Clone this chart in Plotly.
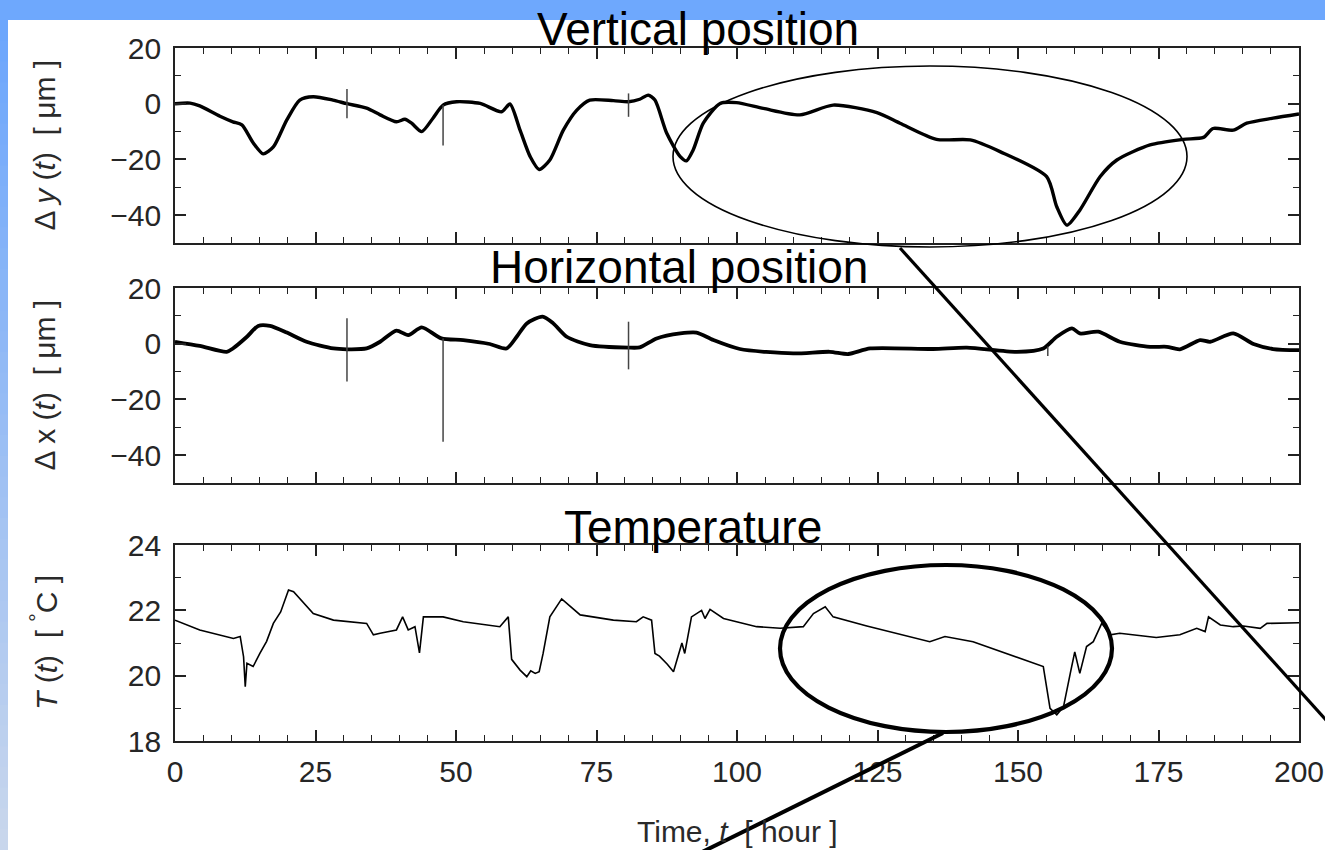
import plotly.graph_objects as go

# ---------------- data ----------------
dy_t = [0, 2.7, 4.4, 8, 10.3, 11.9, 13.9, 15.7, 17.5, 19.9, 22.2, 24.6, 28.1, 30.6, 34.1, 36.5,
        39.4, 40.9, 42.1, 43.9, 45.9, 47.7, 50.1, 54.3, 58.1, 59.6, 61.4, 63.2, 64.8, 66.7, 69.1,
        71.5, 73.8, 78, 80.7, 82.7, 84.2, 85.4, 87.5, 89.9, 91, 92.2, 94, 97, 99.9, 104.7, 111.2,
        117.1, 124.9, 129, 135.5, 141.5, 146.8, 155.1, 156.9, 158.7, 161, 164.6, 167.6, 173.5,
        179.4, 183, 184.7, 188.3, 190.7, 195.4, 200]
dy_v = [0, 0.2, -0.8, -4.5, -6.5, -7.6, -14, -18, -15.5, -5.8, 1.3, 2.5, 1.3, 0, -1.6, -4,
        -6.5, -5.6, -7, -10, -5.2, -0.5, 0.7, 0.1, -2.9, -0.1, -9.5, -19, -23.6, -20.2, -9.5,
        -2.3, 1.3, 1.1, 0.7, 1.6, 3.1, 1.3, -10.6, -19, -20.5, -16.6, -7, 0.1, 0.4, -1.7, -4,
        -0.5, -3.2, -7, -12.8, -13, -17.2, -26.2, -37, -43.6, -38.2, -26.2, -20.2, -14.8,
        -12.8, -12.1, -8.9, -9.5, -7, -5.2, -3.7]
dy_spike_t = [30.6, 47.7, 80.7]
dy_spike_hi = [5.3, -0.5, 3.7]
dy_spike_lo = [-5.2, -15, -4.7]

dx_t = [0, 4.4, 9.2, 10.3, 12.8, 14.8, 16.9, 19.9, 23.4, 28.2, 30.6, 34.1, 36.5, 39.4, 41.5,
        43.9, 47.4, 51.3, 56, 59, 60.8, 62.6, 65.4, 67.3, 69.7, 73.8, 80.7, 82.7, 85.7, 89.9,
        92.8, 95.8, 100.5, 110, 116.5, 119.8, 123.7, 134.9, 140.9, 149.8, 154.5, 156.9, 159.6,
        161, 164.3, 168.1, 173.5, 176.5, 178.8, 182.4, 184.2, 188.3, 191.9, 195.4, 200]
dx_v = [0.7, -0.8, -2.9, -1.7, 2.5, 6.4, 6.4, 4, 0.7, -1.7, -2, -1.7, 0.7, 4.7, 3.1,
        5.9, 1.9, 1.3, -0.1, -1.7, 2.5, 7.3, 9.7, 7.3, 2.5, -0.5, -1.4, -1.3, 1.9, 3.7,
        4, 1.3, -1.9, -3.5, -2.9, -3.7, -1.7, -1.9, -1.4, -2.9, -1.7, 2.5, 5.5,
        3.7, 4.3, 0.7, -1.1, -1.1, -2, 1.3, 0.7, 3.7, -0.1, -1.9, -2.3]
dx_spike_t = [30.6, 47.7, 80.7, 155.3]
dx_spike_hi = [9.1, 1.9, 7.9, -1.0]
dx_spike_lo = [-13.6, -35.2, -9.2, -4.4]

temp_t = [0, 2.1, 4.4, 10.4, 11.6, 12.2, 12.5, 12.8, 13.9, 15.1, 16.3, 17.5, 18.8, 20.2, 21.1, 24.6, 28.2,
          34.1, 35.3, 36.5, 39.4, 40.5, 41.5, 42.7, 43.5, 44.2, 47.7, 51.3, 57.8, 59.3, 59.9,
          61.4, 62.2, 62.6, 63.3, 64.1, 64.8, 65.5, 66.7, 68.8, 72.1, 78, 82.1, 83.3, 84.8, 85.4, 86.2,
          86.9, 87.6, 88.7, 90.2, 90.7, 91.9, 93.7, 94.3, 95.2, 97.6, 103.5, 107.7, 111.8, 113.6,
          115.7, 117.1, 123.1, 134.3, 137, 142, 154.5, 155.1, 155.7, 156.9, 158.1, 159.3, 160.1,
          161, 162.2, 163.4, 164.9, 166.4, 168.1, 174.6, 178.8, 181.8, 183.3, 183.9, 186, 188.3,
          190.1, 193.1, 194.3, 200]
temp_v = [21.7, 21.55, 21.4, 21.14, 21.2, 20.58, 19.66, 20.38, 20.28, 20.68, 21.05, 21.6, 21.95, 22.62, 22.57,
          21.9, 21.7,
          21.6, 21.25, 21.3, 21.4, 21.8, 21.4, 21.5, 20.7, 21.8, 21.8, 21.65, 21.5, 21.8, 20.5,
          20.17, 20.05, 19.97, 20.15, 20.07, 20.12, 20.68, 21.8, 22.35, 21.86, 21.7, 21.65, 21.8,
          21.7, 20.68, 20.6, 20.48, 20.35, 20.12, 21.0, 20.68, 21.8, 22.0, 21.75, 22.03, 21.75,
          21.5, 21.45, 21.5, 21.9,
          22.11, 21.8, 21.52, 21.04, 21.2, 21.04, 20.28, 19.66, 19.0, 18.8, 19.05, 20.07, 20.73,
          20.07, 20.89, 21.04, 21.6, 21.25, 21.3, 21.17, 21.25, 21.45, 21.35, 21.8, 21.55, 21.5,
          21.52, 21.45, 21.6, 21.62]

x_ticks = [0, 25, 50, 75, 100, 125, 150, 175, 200]
pos_ticks = [-40, -20, 0, 20]
temp_ticks = [18, 20, 22, 24]

titles = ["Vertical position", "Horizontal position", "Temperature"]
ytitles = ["\u0394 <i>y</i> (<i>t</i>)\u00a0\u00a0[ \u03bcm ]",
           "\u0394 x (<i>t</i>)\u00a0\u00a0[ \u03bcm ]",
           "<i>T</i> (<i>t</i>)\u00a0\u00a0[ <sup>\u00b0</sup>C ]"]
xtitle = "Time, <i>t</i>\u00a0\u00a0[ hour ]"

# ---------------- layout geometry (pixels) ----------------
W, H = 1325, 850
L, R, T, B = 175, 1299, 48, 741


def px(x):
    return (x - L) / (R - L)


def py(y):
    return (B - y) / (B - T)


dom1 = [py(243), py(48)]
dom2 = [py(483), py(288)]
dom3 = [py(741), py(545)]

FONT = "Liberation Sans, Arial, sans-serif"
AXC = "#222222"

fig = go.Figure()

fig.add_trace(go.Scatter(x=dy_t, y=dy_v, mode="lines",
                         line=dict(color="black", width=3.4, shape="spline", smoothing=0.7),
                         xaxis="x", yaxis="y"))
fig.add_trace(go.Scatter(x=dx_t, y=dx_v, mode="lines",
                         line=dict(color="black", width=3.8, shape="spline", smoothing=0.7),
                         xaxis="x2", yaxis="y2"))
fig.add_trace(go.Scatter(x=temp_t, y=temp_v, mode="lines", line=dict(color="black", width=1.6),
                         xaxis="x3", yaxis="y3"))


def spikes(ts, hi, lo):
    xs, ys = [], []
    for t, h, l in zip(ts, hi, lo):
        xs += [t, t, None]
        ys += [h, l, None]
    return xs, ys


sx, sy = spikes(dy_spike_t, dy_spike_hi, dy_spike_lo)
fig.add_trace(go.Scatter(x=sx, y=sy, mode="lines", line=dict(color="#444", width=1.5),
                         xaxis="x", yaxis="y"))
sx, sy = spikes(dx_spike_t, dx_spike_hi, dx_spike_lo)
fig.add_trace(go.Scatter(x=sx, y=sy, mode="lines", line=dict(color="#444", width=1.5),
                         xaxis="x2", yaxis="y2"))


def axis(**kw):
    d = dict(showline=True, linecolor=AXC, linewidth=1.6, mirror="allticks",
             ticks="inside", ticklen=11, tickwidth=1.6, tickcolor=AXC,
             showgrid=False, zeroline=False, automargin=False,
             tickfont=dict(family=FONT, size=30, color="#262626"),
             minor=dict(ticks="inside", ticklen=6, tickwidth=1.4, tickcolor=AXC, showgrid=False))
    d.update(kw)
    return d


xcommon = dict(range=[0, 200], tickvals=x_ticks, fixedrange=True)
fig.update_layout(
    width=W, height=H, autosize=False,
    margin=dict(l=L, r=W - R, t=T, b=H - B, pad=0),
    paper_bgcolor="white", plot_bgcolor="white",
    showlegend=False,
    xaxis=axis(**xcommon, anchor="y", domain=[0, 1], showticklabels=False,
               minor_dtick=5, minor_tick0=0),
    xaxis2=axis(**xcommon, anchor="y2", domain=[0, 1], showticklabels=False,
                minor_dtick=5, minor_tick0=0),
    xaxis3=axis(**xcommon, anchor="y3", domain=[0, 1], showticklabels=True,
                minor_dtick=5, minor_tick0=0, ticklabelstandoff=3),
    yaxis=axis(range=[-50, 20], tickvals=pos_ticks, anchor="x", domain=dom1,
               minor_dtick=10, minor_tick0=-50, ticklabelstandoff=6),
    yaxis2=axis(range=[-50, 20], tickvals=pos_ticks, anchor="x2", domain=dom2,
                minor_dtick=10, minor_tick0=-50, ticklabelstandoff=6),
    yaxis3=axis(range=[18, 24], tickvals=temp_ticks, anchor="x3", domain=dom3,
                minor_dtick=1, minor_tick0=18, ticklabelstandoff=6),
)

# ---------------- slide background ----------------
shapes = []
shapes.append(dict(type="rect", xref="paper", yref="paper", x0=px(-5), x1=px(W + 5), y0=py(-5), y1=py(20),
                   fillcolor="#6ea8fd", line=dict(width=0), layer="below"))
n = 40
c0 = (108, 166, 252)
c1 = (200, 214, 236)
for i in range(n):
    f = i / (n - 1)
    c = tuple(int(round(c0[k] + (c1[k] - c0[k]) * f)) for k in range(3))
    y0 = 20 + (H - 20) * i / n
    y1 = 20 + (H - 20) * (i + 1) / n + 1
    shapes.append(dict(type="rect", xref="paper", yref="paper", x0=px(-5), x1=px(8),
                       y0=py(y0), y1=py(y1), fillcolor="rgb(%d,%d,%d)" % c,
                       line=dict(width=0), layer="below"))

# ---------------- highlight overlays ----------------
shapes.append(dict(type="circle", xref="paper", yref="paper", x0=px(673), x1=px(1187),
                   y0=py(247), y1=py(66), line=dict(color="black", width=1.6), layer="above"))
shapes.append(dict(type="line", xref="paper", yref="paper", x0=px(900), y0=py(248),
                   x1=px(1345), y1=py(741), line=dict(color="black", width=3.2), layer="above"))
shapes.append(dict(type="circle", xref="paper", yref="paper", x0=px(780), x1=px(1112),
                   y0=py(732), y1=py(565), line=dict(color="black", width=4.2), layer="above"))
shapes.append(dict(type="line", xref="paper", yref="paper", x0=px(943), y0=py(733),
                   x1=px(690), y1=py(858), line=dict(color="black", width=4), layer="above"))
fig.update_layout(shapes=shapes)

# ---------------- text ----------------
ann = []
title_pos = [(698, 29), (679, 267), (693, 527)]
for txt, (cx, cy) in zip(titles, title_pos):
    ann.append(dict(text=txt, xref="paper", yref="paper", x=px(cx), y=py(cy),
                    xanchor="center", yanchor="middle", showarrow=False,
                    font=dict(family=FONT, size=46, color="black")))
ycent = [(48 + 243) / 2, (288 + 483) / 2, (545 + 741) / 2]
for txt, cy in zip(ytitles, ycent):
    ann.append(dict(text=txt, xref="paper", yref="paper", x=px(44), y=py(cy),
                    xanchor="center", yanchor="middle", textangle=-90, showarrow=False,
                    font=dict(family=FONT, size=30, color="#2a2a2a")))
ann.append(dict(text=xtitle, xref="paper", yref="paper", x=px(737), y=py(831),
                xanchor="center", yanchor="middle", showarrow=False,
                font=dict(family=FONT, size=30, color="#2a2a2a")))
fig.update_layout(annotations=ann)

fig.write_html("out.html", config={"responsive": False})
